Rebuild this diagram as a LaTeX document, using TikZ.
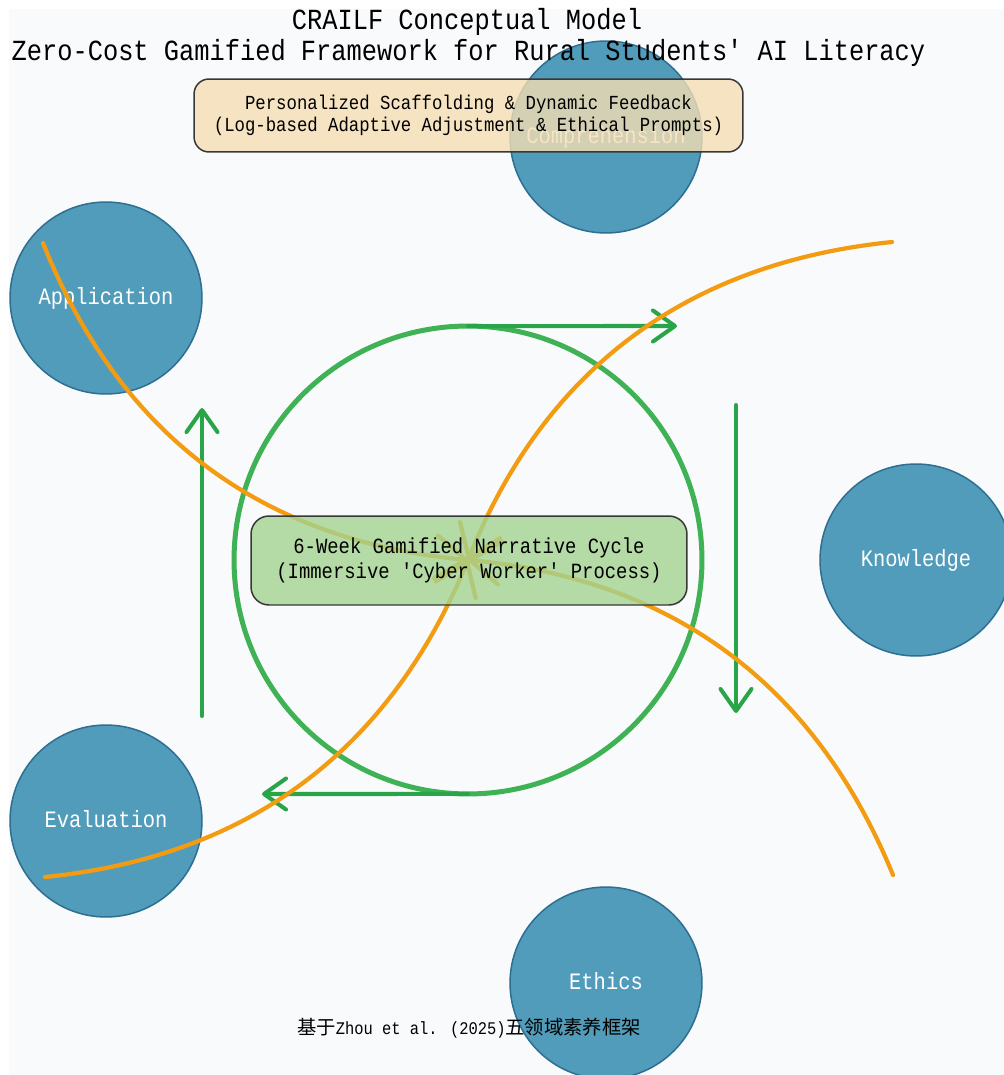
\documentclass[tikz,border=0pt]{standalone}
\usepackage{fontspec}
\usetikzlibrary{arrows.meta}
\newfontfamily\lmono[FakeStretch=0.87]{Liberation Mono}
\newfontfamily\cjkfont{Noto Sans CJK SC}
\definecolor{bgc}{RGB}{248,250,252}
\definecolor{bluefill}{RGB}{80,156,186}
\definecolor{blueedge}{RGB}{46,110,145}
\definecolor{ringgreen}{RGB}{62,178,84}
\definecolor{arrowgreen}{RGB}{42,164,72}
\definecolor{orangec}{RGB}{243,156,18}
\definecolor{wheatc}{RGB}{245,222,179}
\definecolor{boxgreen}{RGB}{163,211,145}
\definecolor{edgegray}{RGB}{55,55,55}
\tikzset{
  litcircle/.style={circle, fill=bluefill, draw=blueedge, line width=0.85pt,
    minimum size=3.84cm, inner sep=0pt, text=white,
    font=\lmono\fontsize{13.37pt}{16pt}\selectfont,
    text height=0.34cm, text depth=0.08cm},
  ringnode/.style={circle, draw=ringgreen, line width=2.85pt, minimum size=9.36cm,
    inner sep=0pt, outer sep=0pt},
  flowarrow/.style={draw=arrowgreen, line width=2.3pt, line cap=round,
    -{Straight Barb[length=0.44cm, width=0.62cm, round]}},
  infarrow/.style={draw=orangec, line width=2.4pt, line cap=round,
    -{Straight Barb[length=0.6cm, width=0.86cm, round]}},
  topbox/.style={draw=edgegray, line width=0.85pt, fill=wheatc, fill opacity=0.8,
    text opacity=1, rounded corners=0.3cm, minimum width=10.98cm, minimum height=1.46cm,
    inner sep=0pt, align=center, font=\lmono\fontsize{11.33pt}{12.52pt}\selectfont},
  cyclebox/.style={draw=edgegray, line width=0.85pt, fill=boxgreen, fill opacity=0.8,
    text opacity=1, rounded corners=0.36cm, minimum width=8.72cm, minimum height=1.78cm,
    inner sep=0pt, align=center, font=\lmono\fontsize{12.35pt}{14.23pt}\selectfont},
  titletext/.style={inner sep=0pt, anchor=base, font=\lmono\fontsize{16.6pt}{19pt}\selectfont},
}
\begin{document}
\begin{tikzpicture}[x=0.02cm, y=-0.02cm]
\useasboundingbox (0,0) rectangle (1004,1075);
\clip (0,0) rectangle (1004,1075);
\fill[bgc] (9,9) rectangle (1004,1075);

% five literacy domains
\node[litcircle] (comp) at (606,137) {Comprehension};
\node[litcircle] (appl) at (106,298) {Application};
\node[litcircle] (know) at (916,560) {Knowledge};
\node[litcircle] (eval) at (106,821) {Evaluation};
\node[litcircle] (ethi) at (606,983) {Ethics};

% cycle ring
\node[ringnode] (ring) at (468,560) {};

% cycle arrows
\coordinate (ta) at (677,326);
\coordinate (ra1) at (736,405);
\coordinate (ra2) at (736,713);
\coordinate (ba) at (262,794);
\coordinate (la1) at (202,716);
\coordinate (la2) at (202,408);
\draw[flowarrow] (ring.north) -- (ta);
\draw[flowarrow] (ra1) -- (ra2);
\draw[flowarrow] (ring.south) -- (ba);
\draw[flowarrow] (la1) -- (la2);

% inflow arrows
\coordinate (ctr) at (468,560);
\coordinate (o1) at (43,243);
\coordinate (o2) at (892,242);
\coordinate (o3) at (893,875);
\coordinate (o4) at (45,877);
\draw[infarrow] (o1) .. controls (119.7,435) and (261,540.7) .. (ctr);
\draw[infarrow] (o2) .. controls (686.7,263) and (545,369) .. (ctr);
\draw[infarrow] (o3) .. controls (815,684.3) and (673,579.3) .. (ctr);
\draw[infarrow] (o4) .. controls (248.3,856.7) and (389,751) .. (ctr);

% boxes
\node[topbox] (scaf) at (468.5,115.5) {Personalized Scaffolding \& Dynamic Feedback\\(Log-based Adaptive Adjustment \& Ethical Prompts)};
\node[cyclebox] (cyc) at (469,560.5) {6-Week Gamified Narrative Cycle\\(Immersive 'Cyber Worker' Process)};

% titles
\node[titletext] (t1) at (467,29.5) {CRAILF Conceptual Model};
\node[titletext] (t2) at (468.5,60) {Zero-Cost Gamified Framework for Rural Students' AI Literacy};

% source note
\node[inner sep=0pt, anchor=base] (src) at (469,1034) {\cjkfont\fontsize{11pt}{13pt}\selectfont 基于{\lmono\fontsize{10.1pt}{13pt}\selectfont Zhou et al. (2025)}五领域素养框架};
\end{tikzpicture}
\end{document}
